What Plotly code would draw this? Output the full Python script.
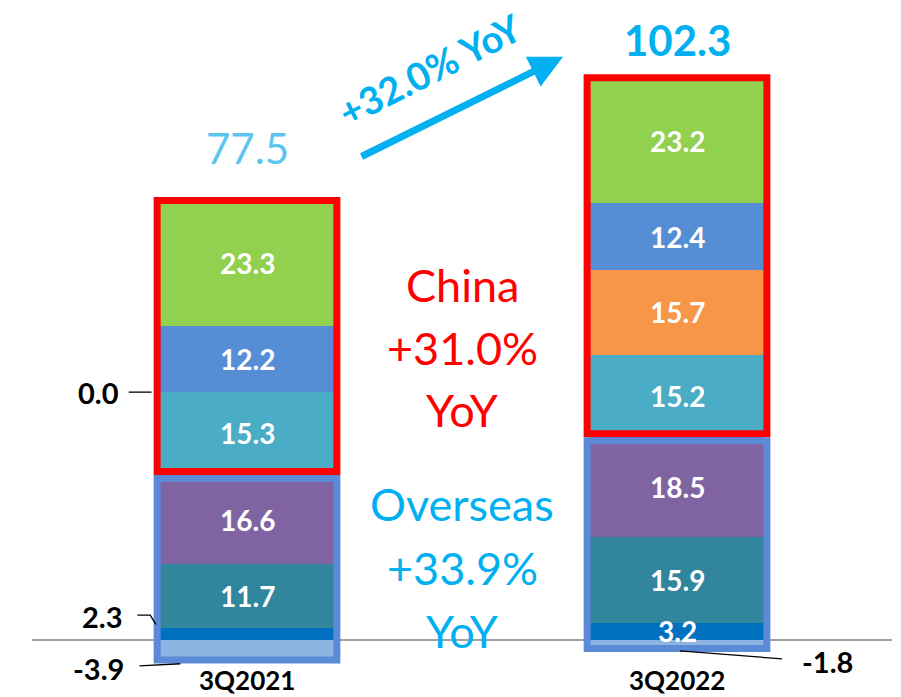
import plotly.graph_objects as go
import numpy as np

categories = ["3Q2021", "3Q2022"]
# segment series, bottom to top
seg_names = ["Seg A", "Seg B", "Seg C", "Seg D", "Seg E", "Seg F", "Seg G", "Neg"]
seg_a = [2.3, 3.2]     # dark blue
seg_b = [11.7, 15.9]   # teal
seg_c = [16.6, 18.5]   # purple
seg_d = [15.3, 15.2]   # light teal
seg_e = [0.0, 15.7]    # orange
seg_f = [12.2, 12.4]   # blue
seg_g = [23.3, 23.2]   # green
seg_neg = [-3.9, -1.8] # light blue (negative)
totals = [77.5, 102.3]
overseas_count = 3  # first three positive segments are overseas

colors = ["#0070C0", "#31859C", "#8064A2", "#4BACC6", "#F79646", "#558ED5", "#92D050", "#8DB4E2"]
series = [seg_a, seg_b, seg_c, seg_d, seg_e, seg_f, seg_g, seg_neg]

FONT = "Lato"
xs = [0, 1]
W = 0.41

fig = go.Figure()
for name, vals, col in zip(seg_names, series, colors):
    fig.add_trace(go.Bar(x=xs, y=vals, name=name, marker=dict(color=col, line=dict(width=0)),
                         width=W, showlegend=False))

pos = np.array(series[:7])
cum = np.cumsum(pos, axis=0)
annotations = []
# inside labels
for i in range(2):
    for k in range(7):
        v = pos[k, i]
        if (i == 0 and k == 0) or v == 0:
            continue
        center = cum[k, i] - v / 2
        annotations.append(dict(x=xs[i], y=center, text=f"{v:.1f}", showarrow=False,
                                font=dict(family=FONT, size=28, color="white", weight="bold")))

blk = dict(family=FONT, size=29, color="black", weight="bold")
# outside labels for small values
annotations += [
    dict(x=-0.345, y=cum[3, 0], text=f"{seg_e[0]:.1f}", showarrow=False, font=blk),
    dict(x=-0.335, y=4.4, text=f"{seg_a[0]:.1f}", showarrow=False, font=blk),
    dict(x=-0.345, y=-5.3, text=f"{seg_neg[0]:.1f}", showarrow=False, font=blk),
    dict(x=1.35, y=-3.9, text=f"{seg_neg[1]:.1f}", showarrow=False, font=blk),
]
# category labels
for i in range(2):
    annotations.append(dict(x=xs[i], y=-7.5, text=categories[i], showarrow=False,
                            font=dict(family=FONT, size=26, color="black", weight="bold")))
# totals
annotations.append(dict(x=xs[0], y=cum[6, 0], text=f"{totals[0]:.1f}", showarrow=False,
                        yanchor="middle", yshift=52,
                        font=dict(family=FONT, size=42, color="#5BC5F2")))
annotations.append(dict(x=xs[1], y=cum[6, 1], text=f"{totals[1]:.1f}", showarrow=False,
                        yanchor="middle", yshift=38,
                        font=dict(family=FONT, size=42, color="#00B0F0", weight="bold")))
# China / Overseas text
for txt, py in [("China", 285), ("+31.0%", 348), ("YoY", 410)]:
    annotations.append(dict(x=0.5, y=(640 - py) / 5.4, text=txt, showarrow=False,
                            font=dict(family=FONT, size=45, color="#FF0000")))
for txt, py in [("Overseas", 504), ("+33.9%", 568), ("YoY", 631)]:
    annotations.append(dict(x=0.5, y=(640 - py) / 5.4, text=txt, showarrow=False,
                            font=dict(family=FONT, size=45, color="#00B0F0")))
# growth arrow
annotations.append(dict(x=0.735, y=108.0, ax=0.263, ay=89.4, axref="x", ayref="y",
                        text="", showarrow=True, arrowhead=2, arrowsize=0.95, arrowwidth=7,
                        arrowcolor="#00B0F0"))
annotations.append(dict(x=0.425, y=105.8, text="+32.0% YoY", showarrow=False, textangle=-27,
                        borderpad=0,
                        font=dict(family=FONT, size=38, color="#00B0F0", weight="bold")))

shapes = []
# zero line
shapes.append(dict(type="line", xref="paper", x0=0, x1=1, y0=0, y1=0,
                   line=dict(color="#808080", width=1.5), layer="below"))
for i in range(2):
    boundary = cum[overseas_count - 1, i]
    x0 = xs[i] - W / 2 - 0.004
    x1 = xs[i] + W / 2 + 0.004
    shapes.append(dict(type="rect", x0=x0, x1=x1, y0=boundary + 0.6, y1=cum[6, i],
                       line=dict(color="#FF0000", width=7)))
    shapes.append(dict(type="rect", x0=x0, x1=x1, y0=seg_neg[i] + 0.2, y1=boundary - 0.7,
                       line=dict(color="#5B8BD6", width=7)))
# leader lines
lead = dict(color="black", width=1.3)
shapes += [
    dict(type="line", x0=-0.275, x1=-0.222, y0=cum[3, 0], y1=cum[3, 0], line=lead),
    dict(type="path", path="M -0.255 4.6 L -0.225 4.6 L -0.212 2.9", line=lead),
    dict(type="line", x0=-0.25, x1=-0.155, y0=-4.8, y1=-4.4, line=lead),
    dict(type="line", x0=1.007, x1=1.244, y0=-2.0, y1=-3.5, line=lead),
]

fig.update_layout(
    barmode="relative",
    width=901, height=697,
    margin=dict(l=32, r=9, t=0, b=0),
    plot_bgcolor="white", paper_bgcolor="white",
    xaxis=dict(range=[-0.5, 1.5], visible=False, fixedrange=True),
    yaxis=dict(range=[-10.56, 118.52], visible=False, fixedrange=True),
    annotations=annotations,
    shapes=shapes,
    bargap=0,
)

fig.write_html("out.html")
